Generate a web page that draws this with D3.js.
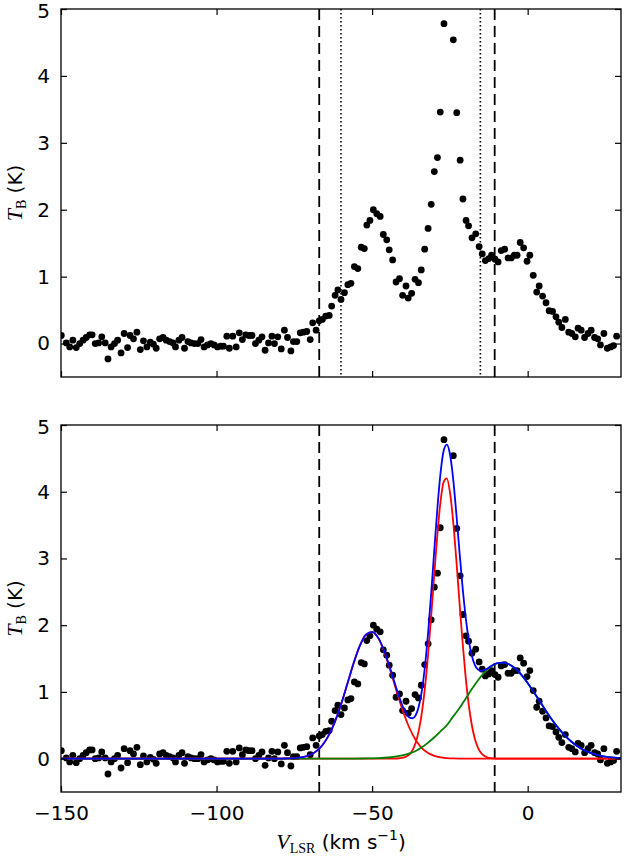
<!DOCTYPE html>
<html>
<head>
<meta charset="utf-8">
<script src="https://d3js.org/d3.v7.min.js"></script>
<style>
    body { margin: 0; background: #fff; }
    svg { display: block; }
    .axis text { font-family: "DejaVu Sans", sans-serif; font-size: 20px; fill: #000; }
    .axis line { stroke: #000; stroke-width: 1.2; }
    .axis path { display: none; }
</style>
</head>
<body>
<div id="chart"></div>
<script>

// observed spectrum (velocity in km/s, brightness temperature in K)
const obsVel = [
    -149.9,-148.3,-147.2,-146.2,-145.1,-144.0,-142.9,-141.9,-140.8,-140.0,
    -139.0,-137.9,-136.9,-135.8,-134.9,-133.9,-132.8,-131.8,-130.7,-129.7,
    -128.6,-127.8,-126.7,-125.6,-124.5,-123.5,-122.4,-121.3,-120.3,-119.4,
    -118.3,-117.2,-116.2,-115.1,-114.0,-113.2,-112.1,-111.1,-110.3,-109.2,
    -108.2,-107.1,-106.0,-105.0,-104.0,-102.9,-101.8,-100.8,-99.7,-98.6,
    -97.8,-96.7,-95.9,-94.8,-93.7,-92.7,-91.7,-90.6,-89.6,-88.6,
    -87.5,-86.4,-85.4,-84.4,-83.3,-82.2,-81.4,-80.3,-79.2,-78.2,
    -77.2,-76.1,-75.3,-74.2,-73.1,-72.1,-71.0,-69.9,-69.1,-68.0,
    -67.0,
    -66.0,-64.9,-63.8,-63.0,-61.9,-61.0,-60.0,-58.9,-57.8,-56.8,
    -55.7,-54.6,-53.5,-52.5,-51.7,-50.7,-49.6,-48.5,-47.4,-46.4,
    -45.3,-44.5,-43.4,-42.3,-41.2,-40.2,-39.1,-38.4,-37.3,-36.2,
    -35.1,-34.2,-33.1,-32.0,-31.0,-30.0,-29.0,-28.1,-26.9,-23.9,
    -22.8,-21.7,-20.8,-19.8,-19.0,-17.9,-16.7,-15.6,-14.6,-13.6,
    -12.5,-11.6,-10.5,-9.5,-8.5,-7.4,-6.3,-5.3,-4.3,-3.4,
    -2.4,-1.3,-0.2,0.7,1.8,2.9,3.7,4.8,5.9,6.9,
    8.0,9.1,10.0,11.0,12.1,13.2,14.2,15.3,16.2,17.2,
    18.3,19.4,20.4,21.5,22.5,23.4,24.5,25.6,26.7,27.6,28.6
];
const obsTb = [
    0.12,0.01,-0.05,0.05,-0.06,0.00,0.05,0.09,0.13,0.13,
    0.00,0.01,0.10,0.01,-0.23,-0.05,0.00,0.05,-0.14,0.15,
    -0.06,0.12,0.07,0.17,-0.09,0.04,-0.05,0.02,-0.01,-0.07,
    0.07,0.09,0.05,0.03,0.01,-0.05,0.05,0.09,-0.07,0.03,
    0.01,0.00,0.00,0.06,-0.05,-0.02,0.00,-0.02,-0.05,-0.04,
    -0.04,0.11,-0.07,0.11,-0.05,0.16,0.06,0.13,0.12,0.12,
    0.00,0.05,0.10,-0.10,0.01,0.11,0.00,0.10,-0.08,0.20,
    0.09,-0.11,0.03,0.03,0.16,0.17,0.18,0.06,0.31,0.20,
    0.34,
    0.36,0.41,0.42,0.56,0.72,0.80,0.66,0.76,0.88,0.90,
    1.15,1.12,1.44,1.42,1.77,1.84,2.00,1.94,1.90,1.63,
    1.55,1.40,1.25,0.92,0.97,0.72,0.86,0.68,0.75,0.96,
    0.91,1.10,1.41,1.72,2.08,2.57,2.78,3.46,4.78,4.54,
    3.45,2.74,2.16,1.84,1.76,1.58,1.64,1.45,1.34,1.24,
    1.27,1.32,1.26,1.22,1.39,1.41,1.28,1.28,1.32,1.32,
    1.51,1.43,1.23,1.32,1.02,0.77,0.86,0.71,0.61,0.49,
    0.48,0.40,0.32,0.24,0.36,0.17,0.15,0.10,0.23,0.20,
    0.09,0.15,0.20,0.09,0.07,-0.02,0.15,-0.07,-0.05,-0.03,0.11
];

// fitted components as [velocity, Tb]
const redFitA = [
    [-150,0],[-80,0],[-78,0.002],[-76,0.004],[-74,0.011],[-72,0.026],[-70,0.055],[-68,0.109],
    [-66,0.201],[-64,0.344],[-62,0.548],[-60,0.811],[-58,1.114],[-56,1.422],[-54,1.685],
    [-52,1.856],[-50,1.897],[-48,1.802],[-46,1.589],[-44,1.302],[-42,0.990],[-40,0.699],
    [-38,0.459],[-36,0.280],[-34,0.158],[-32,0.083],[-30,0.041],[-28,0.018],[-26,0.008],
    [-24,0.003],[-20,0],[30,0]
];
const redFitB = [
    [-150,0],[-44,0],[-42,0.002],[-40,0.014],[-39,0.031],[-38,0.065],[-37,0.128],[-36,0.239],
    [-35,0.419],[-34,0.690],[-33,1.071],[-32,1.563],[-31,2.146],[-30,2.774],[-29,3.371],
    [-28,3.855],[-27,4.147],[-26,4.199],[-25,3.999],[-24,3.583],[-23,3.021],[-22,2.395],
    [-21,1.789],[-20,1.255],[-19,0.829],[-18,0.515],[-17,0.301],[-16,0.166],[-15,0.086],
    [-14,0.042],[-13,0.019],[-12,0.008],[-10,0.001],[30,0]
];
const greenFit = [
    [-150,0],[-64,0],[-60,0.000],[-56,0.001],[-52,0.003],[-48,0.008],[-46,0.013],[-44,0.021],
    [-42,0.035],[-40,0.052],[-38,0.078],[-36,0.115],[-34,0.170],[-32,0.240],[-30,0.320],
    [-28,0.410],[-26,0.500],[-24,0.630],[-22,0.750],[-20,0.895],[-18,1.039],[-16,1.172],
    [-14,1.286],[-12,1.373],[-10,1.426],[-8,1.440],[-6,1.414],[-4,1.350],[-2,1.255],
    [0,1.134],[2,0.996],[4,0.852],[6,0.708],[8,0.572],[10,0.450],[12,0.344],[14,0.256],
    [16,0.185],[18,0.130],[20,0.089],[22,0.059],[24,0.038],[26,0.024],[28,0.015],[30,0.009]
];
const blueFit = [
    [-150,0],[-80,0],[-78,0.002],[-76,0.004],[-74,0.011],[-72,0.026],[-70,0.055],[-68,0.109],
    [-66,0.201],[-64,0.344],[-62,0.548],[-60,0.811],[-58,1.114],[-56,1.423],[-54,1.686],
    [-52,1.858],[-50,1.900],[-48,1.810],[-46,1.602],[-44,1.323],[-42,1.027],[-40,0.765],
    [-39,0.672],[-38,0.615],[-37,0.605],[-36,0.650],[-35,0.780],[-34,1.018],[-33,1.392],
    [-32,1.886],[-31,2.485],[-30,3.135],[-29,3.764],[-28,4.283],[-27,4.614],[-26,4.707],
    [-25,4.569],[-24,4.216],[-23,3.711],[-22,3.145],[-21,2.609],[-20,2.150],[-19,1.796],
    [-18,1.554],[-17,1.406],[-16,1.338],[-15,1.316],[-14,1.328],[-13,1.349],[-12,1.381],
    [-10,1.427],[-8,1.440],[-6,1.414],[-4,1.350],[-2,1.255],[0,1.134],[2,0.996],[4,0.852],
    [6,0.708],[8,0.572],[10,0.450],[12,0.344],[14,0.256],[16,0.185],[18,0.130],[20,0.089],
    [22,0.059],[24,0.038],[26,0.024],[28,0.015],[30,0.009]
];

// integration limits (dashed) and inner window (dotted)
const dashedVel = [-67.0, -10.6];
const dottedVel = [-60.0, -15.2];

const xTicks = [-150, -100, -50, 0];
const yTicks = [0, 1, 2, 3, 4, 5];
const xDomain = [-150, 30];
const yDomain = [-0.5, 5];


class SpectrumPanel {
    constructor(svg, id, top, bottom, opts) {
        this.svg = svg;
        this.id = id;
        this.top = top;
        this.bottom = bottom;
        this.opts = opts;
        this.initVis();
    }

    initVis() {
        let vis = this;

        vis.left = 61;
        vis.right = 621;

        vis.x = d3.scaleLinear().domain(xDomain).range([vis.left, vis.right]);
        vis.y = d3.scaleLinear().domain(yDomain).range([vis.bottom, vis.top]);

        vis.g = vis.svg.append("g");

        vis.svg.append("clipPath").attr("id", "clip-" + vis.id)
            .append("rect")
            .attr("x", vis.left).attr("y", vis.top)
            .attr("width", vis.right - vis.left).attr("height", vis.bottom - vis.top);

        vis.plot = vis.g.append("g").attr("clip-path", "url(#clip-" + vis.id + ")");

        vis.drawAxes();
        vis.updateVis();
    }

    drawAxes() {
        let vis = this;

        // ticks point inward on all four sides
        vis.g.append("g").attr("class", "axis")
            .attr("transform", "translate(0," + vis.bottom + ")")
            .call(d3.axisBottom(vis.x).tickValues(xTicks).tickSizeInner(-6).tickSizeOuter(0).tickPadding(14)
                .tickFormat(vis.opts.xLabels ? d3.format("") : ""));

        vis.g.append("g").attr("class", "axis")
            .attr("transform", "translate(0," + vis.top + ")")
            .call(d3.axisTop(vis.x).tickValues(xTicks).tickSizeInner(-6).tickSizeOuter(0).tickFormat(""));

        let yAxis = vis.g.append("g").attr("class", "axis")
            .attr("transform", "translate(" + vis.left + ",0)")
            .call(d3.axisLeft(vis.y).tickValues(yTicks).tickSizeInner(-6).tickSizeOuter(0).tickPadding(11)
                .tickFormat(d3.format("d")));
        // nudge the top "5" so it stays on the page
        yAxis.selectAll("text").attr("dy", d => d === 5 ? "0.42em" : "0.32em");

        vis.g.append("g").attr("class", "axis")
            .attr("transform", "translate(" + vis.right + ",0)")
            .call(d3.axisRight(vis.y).tickValues(yTicks).tickSizeInner(-6).tickSizeOuter(0).tickFormat(""));

        vis.g.append("rect")
            .attr("x", vis.left).attr("y", vis.top)
            .attr("width", vis.right - vis.left).attr("height", vis.bottom - vis.top)
            .attr("fill", "none").attr("stroke", "#000").attr("stroke-width", 1.3);

        // y label: T_B (K)
        let mid = (vis.top + vis.bottom) / 2;
        let lab = vis.g.append("text")
            .attr("transform", "translate(22," + mid + ") rotate(-90)")
            .attr("text-anchor", "middle");
        lab.append("tspan").attr("font-family", "Liberation Serif, serif").attr("font-style", "italic")
            .attr("font-size", 22).text("T");
        lab.append("tspan").attr("font-family", "Liberation Serif, serif")
            .attr("font-size", 14).attr("dy", 4).text("B");
        lab.append("tspan").attr("font-family", "DejaVu Sans, sans-serif")
            .attr("font-size", 20).attr("dy", -4).text(" (K)");
    }

    updateVis() {
        let vis = this;

        vis.plot.selectAll(".dash").data(dashedVel).enter().append("line")
            .attr("class", "dash")
            .attr("x1", d => vis.x(d)).attr("x2", d => vis.x(d))
            .attr("y1", vis.top).attr("y2", vis.bottom)
            .attr("stroke", "#000").attr("stroke-width", 1.8)
            .attr("stroke-dasharray", "11,6");

        if (vis.opts.dotted) {
            vis.plot.selectAll(".dot-line").data(dottedVel).enter().append("line")
                .attr("class", "dot-line")
                .attr("x1", d => vis.x(d)).attr("x2", d => vis.x(d))
                .attr("y1", vis.top).attr("y2", vis.bottom)
                .attr("stroke", "#000").attr("stroke-width", 1.6)
                .attr("stroke-dasharray", "1.6,2.4");
        }

        vis.plot.selectAll(".obs").data(obsVel).enter().append("circle")
            .attr("class", "obs")
            .attr("cx", d => vis.x(d))
            .attr("cy", (d, i) => vis.y(obsTb[i]))
            .attr("r", 3.4)
            .attr("fill", "#000");

        if (vis.opts.fits) {
            let line = d3.line()
                .x(d => vis.x(d[0]))
                .y(d => vis.y(d[1]))
                .curve(d3.curveMonotoneX);

            let fits = [
                {pts: redFitA, col: "#ff0000"},
                {pts: redFitB, col: "#ff0000"},
                {pts: greenFit, col: "#008000"},
                {pts: blueFit, col: "#0000ff"}
            ];
            vis.plot.selectAll(".fit").data(fits).enter().append("path")
                .attr("class", "fit")
                .attr("d", d => line(d.pts))
                .attr("fill", "none")
                .attr("stroke", d => d.col)
                .attr("stroke-width", 1.8);
        }
    }
}


const svg = d3.select("#chart").append("svg")
    .attr("width", 625)
    .attr("height", 860);

let topPanel = new SpectrumPanel(svg, "top", 9, 377, {dotted: true, fits: false, xLabels: false});
let bottomPanel = new SpectrumPanel(svg, "bottom", 425, 792, {dotted: false, fits: true, xLabels: true});

// x label: V_LSR (km s^-1)
let xl = svg.append("text")
    .attr("x", 341).attr("y", 849)
    .attr("text-anchor", "middle");
xl.append("tspan").attr("font-family", "Liberation Serif, serif").attr("font-style", "italic")
    .attr("font-size", 22).text("V");
xl.append("tspan").attr("font-family", "Liberation Serif, serif")
    .attr("font-size", 14).attr("dy", 4).text("LSR");
xl.append("tspan").attr("font-family", "DejaVu Sans, sans-serif")
    .attr("font-size", 20).attr("dy", -4).text(" (km s");
xl.append("tspan").attr("font-family", "DejaVu Sans, sans-serif")
    .attr("font-size", 14).attr("dy", -9).text("\u22121");
xl.append("tspan").attr("font-family", "DejaVu Sans, sans-serif")
    .attr("font-size", 20).attr("dy", 9).text(")");

</script>
</body>
</html>
